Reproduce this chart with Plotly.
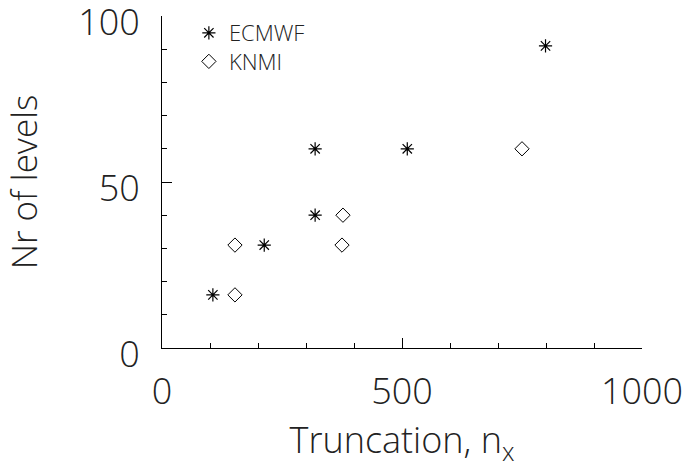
import plotly.graph_objects as go

ecmwf_trunc = [106, 213, 319, 319, 511, 799]
ecmwf_levels = [16, 31, 40, 60, 60, 91]
knmi_trunc = [152, 152, 375, 377, 750]
knmi_levels = [16, 31, 31, 40, 60]

x_ticks = [0, 500, 1000]
y_ticks = [0, 50, 100]

FONT = "Open Sans"
TXT = "#222"

fig = go.Figure()
fig.add_trace(go.Scatter(
    x=ecmwf_trunc, y=ecmwf_levels, mode="markers", name="ECMWF", legend="legend",
    marker=dict(symbol="asterisk-open", size=11, color="black",
                line=dict(color="black", width=1.2)),
))
fig.add_trace(go.Scatter(
    x=knmi_trunc, y=knmi_levels, mode="markers", name="KNMI", legend="legend2",
    marker=dict(symbol="diamond-open", size=11, color="black",
                line=dict(color="black", width=1)),
))

axis_common = dict(
    showgrid=False, zeroline=False, showline=True, linecolor="black",
    linewidth=1, ticks="inside", tickcolor="black", ticklen=10, tickwidth=1,
    mirror=False, automargin=False, ticklabeloverflow="allow",
    tickfont=dict(family=FONT, size=36, color=TXT, weight=300),
)

fig.update_xaxes(
    range=[0, 1000], tickvals=x_ticks, ticktext=[str(v) for v in x_ticks],
    minor=dict(dtick=100, ticks="inside", ticklen=5, tickcolor="black", tickwidth=1),
    title=dict(text="Truncation, n<sub>x</sub>",
               font=dict(family=FONT, size=36, color=TXT, weight=300), standoff=8),
    ticklabelstandoff=12,
    **axis_common,
)
fig.update_yaxes(
    range=[0, 100], tickvals=y_ticks, ticktext=[str(v) for v in y_ticks],
    minor=dict(dtick=10, ticks="inside", ticklen=5, tickcolor="black", tickwidth=1),
    title=dict(text="Nr of levels",
               font=dict(family=FONT, size=35, color=TXT, weight=300), standoff=38),
    ticklabelstandoff=14, ticklabelshift=6,
    **axis_common,
)

legend_common = dict(
    xanchor="left", yanchor="top",
    font=dict(family=FONT, size=22, color=TXT, weight=300),
    bgcolor="rgba(0,0,0,0)", itemwidth=30,
)

fig.update_layout(
    width=691, height=474,
    margin=dict(l=162, r=49, t=12, b=126),
    paper_bgcolor="white", plot_bgcolor="white",
    showlegend=True,
    legend=dict(x=0.056, y=1.012, **legend_common),
    legend2=dict(x=0.056, y=0.926, **legend_common),
)

fig.write_html("out.html", config={"displayModeBar": False},
               post_script="document.body.style.margin='0px';")
